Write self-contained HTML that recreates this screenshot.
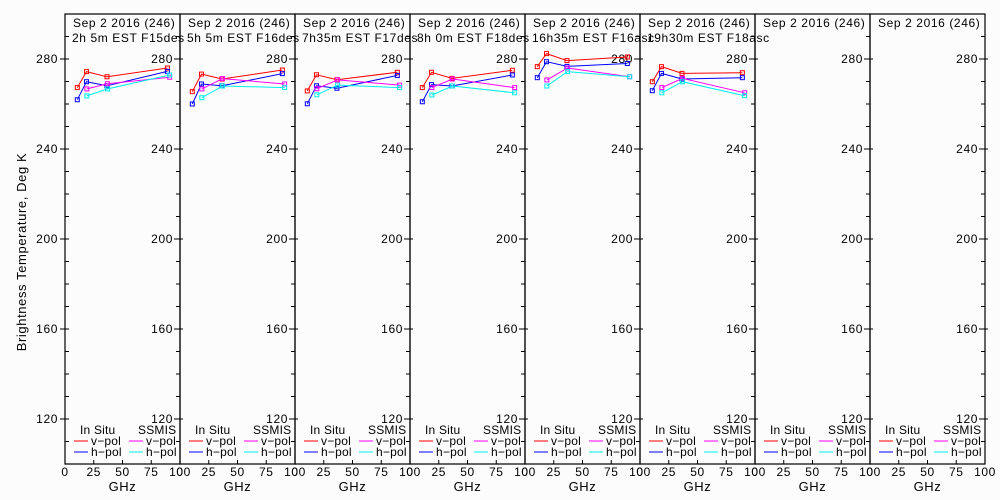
<!DOCTYPE html>
<html><head><meta charset="utf-8"><style>
html,body{margin:0;padding:0;background:#fcfcfc;}
svg{display:block;font-family:"Liberation Sans","DejaVu Sans",sans-serif;}
svg text{letter-spacing:0.6px;}
svg g.legend text{letter-spacing:0.2px;}
</style></head><body>
<svg id="chart" width="1000" height="500" viewBox="0 0 1000 500" xmlns="http://www.w3.org/2000/svg">
<rect width="1000" height="500" fill="#fcfcfc"/>
<text transform="translate(26,252) rotate(-90)" text-anchor="middle" font-size="13" fill="#000">Brightness Temperature, Deg K</text>
<g id="panels"></g>
</svg>
<script>
const titles = ["2h 5m  EST F15des","5h 5m  EST F16des","7h35m  EST F17des","8h 0m  EST F18des","16h35m  EST F16asc","19h30m  EST F18asc","",""];
const dateLabel = "Sep 2 2016 (246)";
const inSituFreq = [10.7, 18.7, 36.5, 89];
const ssmisFreq = [19, 37, 91];
const inSituV = [[267.3,274.4,272.1,276],[265.5,273.3,271.1,275.1],[265.8,273,270.8,274.1],[267.3,274.1,271.4,275],[276.6,282.4,279.3,280.9],[269.9,276.6,273.6,273.9],null,null];
const inSituH = [[261.9,269.9,268.1,274.5],[260,268.9,268.1,273.5],[260.1,268.1,267,272.7],[261,268.6,268,272.9],[271.7,278.8,276.7,278],[265.9,273.6,271.1,271.7],null,null];
const ssmisV = [[266.7,269,271.9],[266.7,271.3,268.9],[266.8,270.7,268.4],[267.3,271.1,267.3],[270.7,276,272.1],[267.3,271.4,265],null,null];
const ssmisH = [[263.6,266.7,272.9],[262.8,268,267.3],[264.1,268.4,267.3],[264,268,265],[268,274.4,272.1],[265,269.9,263.7],null,null];
const yTickLabels = [120,160,200,240,280];
const xTickLabels = [0,25,50,75,100];

const NS="http://www.w3.org/2000/svg";
const root=document.getElementById('panels');
const PX0=65, PW=115, TOP=14, BOT=464;
const ymin=100, ymax=300;
function yS(v){return BOT-(v-ymin)/(ymax-ymin)*(BOT-TOP);}
function xS(p,f){return PX0+p*PW+f/100*PW;}
function mk(tag,attrs,parent){const e=document.createElementNS(NS,tag);for(const k in attrs)e.setAttribute(k,attrs[k]);(parent||root).appendChild(e);return e;}
function txt(x,y,s,anchor,parent,size){const t=mk('text',{x:x,y:y,'text-anchor':anchor||'start','font-size':size||12,fill:'#000'},parent);t.textContent=s;return t;}

for(let p=0;p<8;p++){
  const g=mk('g',{});
  
  
  const L=PX0+p*PW, R=L+PW;
  const fr=mk('rect',{x:L,y:TOP,width:PW,height:BOT-TOP,fill:'none',stroke:'#000','stroke-width':1.2},g);
  
  
  for(let v=110;v<300;v+=10){
    const yy=yS(v), major=(v%40===0);
    mk('line',{x1:R-(major?6:4),x2:R+(major?3:0),y1:yy,y2:yy,stroke:'#000'},g);
    if(p===0) mk('line',{x1:L-(major?5:0),x2:L+4,y1:yy,y2:yy,stroke:'#000'},g);
  }
  yTickLabels.forEach(v=>{
    const t=txt(R-7,yS(v)+4,String(v),'end',g);
    
    
    if(p===0){const t2=txt(L-7,yS(v)+4,String(v),'end',g);
      
      }
  });
  xTickLabels.forEach(v=>{
    const xx=xS(p,v);
    mk('line',{x1:xx,x2:xx,y1:BOT,y2:BOT-4,stroke:'#000'},g);
    const t=txt(xx,476,String(v),'middle',g);
    
    
  });
  const xl=txt(L+PW/2,491,'GHz','middle',g,13);
  
  
  const t1=txt(L+8,27,dateLabel,'start',g);
  
  
  const t2=txt(L+7,42,titles[p],'start',g);
  
  
  t2.setAttribute('xml:space','preserve');
  const lg=mk('g',{class:'legend'},g);
  
  
  txt(L+15,434,'In Situ','start',lg);
  txt(L+73,434,'SSMIS','start',lg);
  [['red','#f00',441,'v-pol',0],['blue','#00f',452,'h-pol',0],['magenta','#f0f',441,'v-pol',55],['cyan','#0ee',452,'h-pol',55]].forEach(a=>{
    const ln=mk('line',{x1:L+9+a[4],x2:L+23+a[4],y1:a[2],y2:a[2],stroke:a[1]},lg);
    
    
    txt(L+26+a[4],a[2]+4,a[3].replace('-','\u2212'),'start',lg);
  });
  const series=[[inSituV[p],inSituFreq,'#f00','insitu-vpol'],[inSituH[p],inSituFreq,'#00f','insitu-hpol'],[ssmisV[p],ssmisFreq,'#f0f','ssmis-vpol'],[ssmisH[p],ssmisFreq,'#0ee','ssmis-hpol']];
  series.forEach(s=>{
    if(!s[0]) return;
    const pts=s[0].map((v,i)=>xS(p,s[1][i]).toFixed(1)+','+yS(v).toFixed(1)).join(' ');
    const pl=mk('polyline',{points:pts,fill:'none',stroke:s[2],'stroke-width':1},g);
    
    
    s[0].forEach((v,i)=>{
      const r=mk('rect',{x:xS(p,s[1][i])-2,y:yS(v)-2,width:4,height:4,fill:'none',stroke:s[2],'stroke-width':1},g);
      
      
    });
  });
}
</script>
</body></html>
